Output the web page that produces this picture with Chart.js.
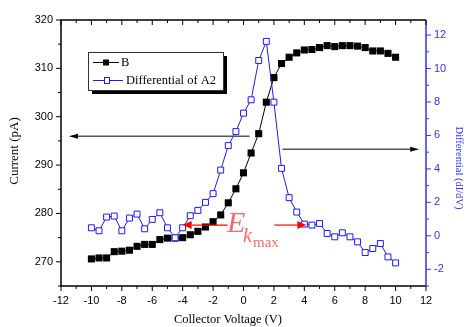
<!DOCTYPE html>
<html>
<head>
<meta charset="utf-8">
<script src="https://cdn.jsdelivr.net/npm/chart.js@4/dist/chart.umd.min.js"></script>
<style>
  body { margin: 0; background: #fff; }
  #wrap { width: 468px; height: 327px; position: relative; }
</style>
</head>
<body>
<div id="wrap"><canvas id="chart"></canvas></div>
<script>
// collector voltage (V)
const voltage = [-10, -9.5, -9, -8.5, -8, -7.5, -7, -6.5, -6, -5.5, -5, -4.5, -4, -3.5, -3, -2.5, -2, -1.5, -1, -0.5,
  0, 0.5, 1, 1.5, 2, 2.5, 3, 3.5, 4, 4.5, 5, 5.5, 6, 6.5, 7, 7.5, 8, 8.5, 9, 9.5, 10]

// current B (pA), left axis
const currentB = [270.6, 270.8, 270.8, 272.1, 272.2, 272.4, 273.2, 273.6, 273.6, 274.6, 274.9, 274.9, 275.0, 275.6,
  276.3, 277.2, 278.3, 279.7, 282.2, 285.1, 288.4, 292.5, 296.5, 303.0, 308.1, 311.0, 312.3, 313.2, 313.8, 313.9,
  314.3, 314.7, 314.5, 314.7, 314.7, 314.6, 314.3, 313.6, 313.6, 313.1, 312.3]

// differential of A2 (dI/dV), right axis
const diffA2 = [0.48, 0.3, 1.12, 1.18, 0.3, 1.06, 1.3, 0.42, 0.98, 1.38, 0.48, -0.12, 0.48, 1.2, 1.52, 2.0, 2.52,
  3.93, 5.39, 6.23, 7.33, 8.13, 10.48, 11.62, 7.99, 4.03, 2.28, 1.42, 0.7, 0.64, 0.74, 0.14, -0.06, 0.18, -0.06,
  -0.36, -1.0, -0.76, -0.46, -1.26, -1.62]

const xTicks = [-12, -10, -8, -6, -4, -2, 0, 2, 4, 6, 8, 10, 12]
const xMinor = [-11, -9, -7, -5, -3, -1, 1, 3, 5, 7, 9, 11]
const leftTicks = [270, 280, 290, 300, 310, 320]
const leftMinor = [265, 275, 285, 295, 305, 315]
const rightTicks = [-2, 0, 2, 4, 6, 8, 10, 12]
const rightMinor = [-3, -1, 1, 3, 5, 7, 9, 11]

const BLUE = "#1a1aff"
const AXBLUE = "#3030ff"
const tickFont = { family: "Liberation Sans", size: 11 }

function arrow(ctx, x1, y, x2, lineColor, headColor, lw, hl, hw) {
  let dir = x2 > x1 ? 1 : -1
  ctx.strokeStyle = lineColor
  ctx.lineWidth = lw
  ctx.beginPath()
  ctx.moveTo(x1, y)
  ctx.lineTo(x2 - dir * hl, y)
  ctx.stroke()
  ctx.fillStyle = headColor
  ctx.beginPath()
  ctx.moveTo(x2, y)
  ctx.lineTo(x2 - dir * hl, y - hw)
  ctx.lineTo(x2 - dir * hl, y + hw)
  ctx.closePath()
  ctx.fill()
}

const decor = {
  id: "decor",
  afterDraw(chart) {
    let ctx = chart.ctx
    let { left, right, top, bottom } = chart.chartArea
    let sx = chart.scales.x, sy = chart.scales.y, sy2 = chart.scales.y2
    ctx.save()

    // frame
    ctx.lineWidth = 1.5
    ctx.strokeStyle = "#000"
    ctx.beginPath()
    ctx.moveTo(right, top); ctx.lineTo(left, top); ctx.lineTo(left, bottom); ctx.lineTo(right, bottom)
    ctx.stroke()
    ctx.strokeStyle = AXBLUE
    ctx.beginPath()
    ctx.moveTo(right, top); ctx.lineTo(right, bottom)
    ctx.stroke()

    // ticks
    ctx.lineWidth = 1
    ctx.strokeStyle = "#000"
    ctx.beginPath()
    for (let v of xTicks.concat(xMinor)) {
      let len = xTicks.includes(v) ? 5 : 3
      let px = sx.getPixelForValue(v)
      ctx.moveTo(px, bottom); ctx.lineTo(px, bottom + len)
      ctx.moveTo(px, top); ctx.lineTo(px, top + len)
    }
    for (let v of leftTicks.concat(leftMinor)) {
      let len = leftTicks.includes(v) ? 5 : 3
      let py = sy.getPixelForValue(v)
      ctx.moveTo(left, py); ctx.lineTo(left - len, py)
    }
    ctx.stroke()
    ctx.strokeStyle = AXBLUE
    ctx.beginPath()
    for (let v of rightTicks.concat(rightMinor)) {
      let len = rightTicks.includes(v) ? 5 : 3
      let py = sy2.getPixelForValue(v)
      ctx.moveTo(right, py); ctx.lineTo(right + len, py)
    }
    ctx.stroke()

    // axis titles
    ctx.fillStyle = "#000"
    ctx.font = "12.5px 'Liberation Serif'"
    ctx.textAlign = "center"
    ctx.textBaseline = "middle"
    ctx.fillText("Collector Voltage (V)", 228, 320)
    ctx.save()
    ctx.translate(15, 151)
    ctx.rotate(-Math.PI / 2)
    ctx.font = "13px 'Liberation Serif'"
    ctx.fillText("Current (pA)", 0, 0)
    ctx.restore()
    ctx.save()
    ctx.translate(459, 168)
    ctx.rotate(Math.PI / 2)
    ctx.fillStyle = AXBLUE
    ctx.font = "10.5px 'Liberation Serif'"
    ctx.fillText("Differential (dI/dV)", 0, 0)
    ctx.restore()

    // black direction arrows
    let ya = sy.getPixelForValue(295.95)
    arrow(ctx, sx.getPixelForValue(0.4), ya, sx.getPixelForValue(-11.48), "#555", "#000", 1.5, 9, 2.5)
    let yb = sy.getPixelForValue(293.25)
    arrow(ctx, sx.getPixelForValue(2.56), yb, sx.getPixelForValue(11.55), "#555", "#000", 1.5, 9, 2.5)

    // Ek_max annotation
    let yr = sy.getPixelForValue(277.6)
    arrow(ctx, sx.getPixelForValue(-1.05), yr, sx.getPixelForValue(-4.0), "#ff0000", "#ff0000", 1.2, 9, 4)
    arrow(ctx, sx.getPixelForValue(2.03), yr, sx.getPixelForValue(4.13), "#ff0000", "#ff0000", 1.2, 9, 4)
    ctx.fillStyle = "rgba(255,40,40,0.7)"
    ctx.textAlign = "left"
    ctx.textBaseline = "alphabetic"
    ctx.font = "italic 30px 'Liberation Serif'"
    ctx.fillText("E", 227, 232)
    ctx.font = "italic 20px 'Liberation Serif'"
    ctx.fillText("k", 243, 242)
    ctx.font = "15px 'Liberation Serif'"
    ctx.fillText("max", 253, 247)

    // legend
    let lx = 88, ly = 52, lw = 135, lh = 38
    ctx.fillStyle = "#000"
    ctx.fillRect(lx + 4, ly + 4, lw, lh)
    ctx.fillStyle = "#fff"
    ctx.fillRect(lx, ly, lw, lh)
    ctx.strokeStyle = "#333"
    ctx.lineWidth = 1
    ctx.strokeRect(lx + 0.5, ly + 0.5, lw, lh)
    ctx.font = "12.5px 'Liberation Serif'"
    ctx.textBaseline = "middle"
    let ds = chart.data.datasets
    // B
    ctx.strokeStyle = ds[0].borderColor
    ctx.beginPath(); ctx.moveTo(93, 62.5); ctx.lineTo(119, 62.5); ctx.stroke()
    ctx.fillStyle = ds[0].pointBackgroundColor
    ctx.fillRect(103, 59.5, 6, 6)
    ctx.fillStyle = "#000"
    ctx.fillText(ds[0].label, 121, 63)
    // Differential
    ctx.strokeStyle = ds[1].borderColor
    ctx.beginPath(); ctx.moveTo(93, 80.5); ctx.lineTo(123, 80.5); ctx.stroke()
    ctx.fillStyle = "#fff"
    ctx.fillRect(104, 77.5, 6, 6)
    ctx.strokeRect(104.5, 77.5, 5, 6)
    ctx.fillStyle = "#000"
    ctx.fillText(ds[1].label, 126, 81)

    ctx.restore()
  }
}

let chart = new Chart("chart", {
  type: "line",
  data: {
    datasets: [
      {
        label: "B",
        data: voltage.map((v, i) => ({ x: v, y: currentB[i] })),
        yAxisID: "y",
        borderColor: "#000",
        borderWidth: 1,
        pointStyle: "rect",
        pointRadius: 5,
        pointBackgroundColor: "#000",
        pointBorderColor: "#000",
        pointBorderWidth: 0,
        order: 1
      },
      {
        label: "Differential of A2",
        data: voltage.map((v, i) => ({ x: v, y: diffA2[i] })),
        yAxisID: "y2",
        borderColor: BLUE,
        borderWidth: 1,
        pointStyle: "rect",
        pointRadius: 4.2,
        pointBackgroundColor: "#fff",
        pointBorderColor: BLUE,
        pointBorderWidth: 1,
        order: 0
      }
    ]
  },
  options: {
    responsive: true,
    maintainAspectRatio: false,
    animation: false,
    layout: { padding: { top: 20, left: 0, right: 0, bottom: 0 } },
    plugins: { legend: { display: false }, tooltip: { enabled: false } },
    scales: {
      x: {
        type: "linear",
        min: -12, max: 12,
        grid: { display: false, drawTicks: false },
        border: { display: false },
        afterBuildTicks(s) { s.ticks = xTicks.map(v => ({ value: v })) },
        afterFit(s) { s.height = 41 },
        ticks: { font: tickFont, color: "#000", padding: 8, maxRotation: 0, autoSkip: false }
      },
      y: {
        position: "left",
        min: 265, max: 320,
        grid: { display: false, drawTicks: false },
        border: { display: false },
        afterBuildTicks(s) { s.ticks = leftTicks.map(v => ({ value: v })) },
        afterFit(s) { s.width = 61 },
        ticks: { font: tickFont, color: "#000", padding: 8 }
      },
      y2: {
        position: "right",
        min: -3, max: 12.9,
        grid: { display: false, drawTicks: false },
        border: { display: false },
        afterBuildTicks(s) { s.ticks = rightTicks.map(v => ({ value: v })) },
        afterFit(s) { s.width = 42 },
        ticks: { font: tickFont, color: AXBLUE, padding: 8 }
      }
    }
  },
  plugins: [decor]
})
</script>
</body>
</html>
